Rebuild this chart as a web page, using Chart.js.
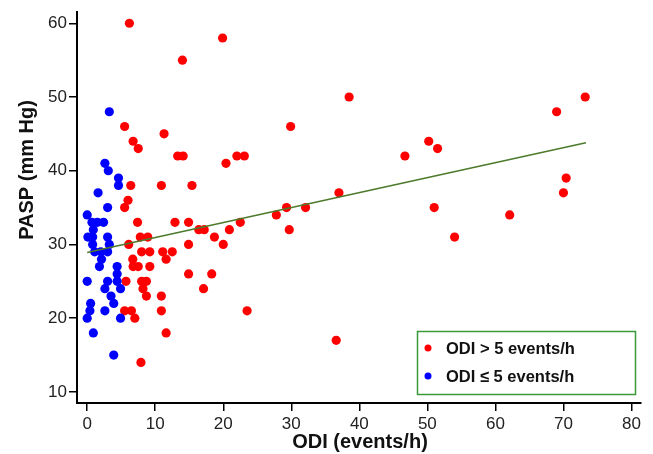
<!DOCTYPE html>
<html>
<head>
<meta charset="utf-8">
<script src="https://cdn.jsdelivr.net/npm/chart.js@4.4.1/dist/chart.umd.min.js"></script>
<style>
  html, body { margin: 0; padding: 0; background: #fff; }
  #wrap { width: 653px; height: 454px; }
</style>
</head>
<body>
<div id="wrap"><canvas id="c" width="653" height="454"></canvas></div>
<script>
// ---- data ----
const xTicks = [0, 10, 20, 30, 40, 50, 60, 70, 80];
const yTicks = [10, 20, 30, 40, 50, 60];

const seriesNames = ['ODI > 5 events/h', 'ODI \u2264 5 events/h'];

const redX = [6.2,19.9,14.0,38.5,73.2,69.0,5.5,29.9,11.3,6.75,50.2,7.5,51.5,13.3,14.1,22.0,23.1,46.7,20.4,70.4,
  6.4,10.9,15.4,37.0,70.0,6.0,5.5,29.3,32.1,51.0,27.8,62.1,7.4,12.9,14.9,22.5,16.4,17.2,20.9,29.7,
  54.0,7.8,8.9,18.7,6.1,14.9,20.0,8.0,9.2,11.1,12.5,6.7,11.6,6.75,7.5,9.2,14.9,18.3,5.7,8.0,
  8.7,8.2,17.1,8.7,10.9,5.5,6.5,10.9,23.5,7.0,11.6,36.6,7.9];
const redY = [60,58,55,50,50,48,46,46,45,44,44,43,43,42,42,42,42,42,41,39,
  38,38,38,37,37,36,35,35,35,35,34,34,33,33,33,33,32,32,32,32,
  31,31,31,31,30,30,30,29,29,29,29,28,28,27,27,27,26,26,25,25,
  25,24,24,23,23,21,21,21,21,20,18,17,14];

const blueX = [3.25,2.6,3.1,4.6,4.6,1.6,3.0,0.0,0.7,1.5,2.4,0.9,0.1,0.8,3.0,0.8,3.25,1.1,2.0,3.0,
  2.1,1.8,4.4,4.4,0.0,3.0,4.4,2.6,4.9,3.5,3.9,0.5,0.4,2.6,0.0,4.9,0.9,3.9];
const blueY = [48,41,40,39,38,37,35,34,33,33,33,32,31,31,31,30,30,29,29,29,
  28,27,27,26,25,25,25,24,24,23,22,22,21,21,20,20,18,15];

const trendX = [0, 73.3];
const trendY = [28.9, 43.8];

// ---- build ----
const pts = (xs, ys) => xs.map((x, i) => ({ x: x, y: ys[i] }));
const FONT = 'Arial, "Liberation Sans", Helvetica, sans-serif';

const overlay = {
  id: 'overlay',
  afterDraw(chart) {
    const ctx = chart.ctx;
    ctx.save();
    // axis titles
    ctx.fillStyle = '#111';
    ctx.font = 'bold 20px ' + FONT;
    ctx.textAlign = 'center';
    ctx.textBaseline = 'middle';
    ctx.fillText('ODI (events/h)', 360, 442);
    ctx.save();
    ctx.translate(27, 170);
    ctx.rotate(-Math.PI / 2);
    ctx.fillText('PASP (mm Hg)', 0, 0);
    ctx.restore();

    // legend box
    ctx.strokeStyle = '#3a9a3a';
    ctx.lineWidth = 1.5;
    ctx.strokeRect(417.5, 331.5, 218, 63);
    const rows = [[348, '#ff0000'], [376, '#0000ff']];
    ctx.font = 'bold 16.5px ' + FONT;
    ctx.textAlign = 'left';
    rows.forEach((r, i) => {
      ctx.fillStyle = r[1];
      ctx.beginPath();
      ctx.arc(428, r[0], 3.5, 0, Math.PI * 2);
      ctx.fill();
      ctx.fillStyle = '#111';
      ctx.fillText(seriesNames[i], 446, r[0] + 1);
    });
    ctx.restore();
  }
};

new Chart(document.getElementById('c'), {
  type: 'scatter',
  data: {
    datasets: [
      { label: 'trend', type: 'line', data: pts(trendX, trendY), borderColor: '#4e7a2c', borderWidth: 1.6,
        pointRadius: 0, fill: false, order: 0 },
      { label: seriesNames[1], data: pts(blueX, blueY), backgroundColor: '#0000ff', borderWidth: 0,
        pointRadius: 4.6, order: 1 },
      { label: seriesNames[0], data: pts(redX, redY), backgroundColor: '#ff0000', borderWidth: 0,
        pointRadius: 4.6, order: 2 }
    ]
  },
  options: {
    responsive: false,
    devicePixelRatio: 1,
    animation: false,
    layout: { padding: { top: 10, right: 12, left: 0, bottom: 0 } },
    plugins: { legend: { display: false }, tooltip: { enabled: false } },
    scales: {
      x: {
        type: 'linear', min: -1.5, max: 81.4,
        afterFit(s) { s.height = 51; },
        afterBuildTicks(s) { s.ticks = xTicks.map(v => ({ value: v })); },
        border: { color: '#000', width: 2 },
        grid: { drawOnChartArea: false, drawTicks: true, tickLength: 8, color: '#000', lineWidth: 1.5 },
        ticks: { color: '#222', font: { family: FONT, size: 17 }, padding: 3, maxRotation: 0 }
      },
      y: {
        type: 'linear', min: 8.5, max: 61.5,
        afterFit(s) { s.width = 77; },
        afterBuildTicks(s) { s.ticks = yTicks.map(v => ({ value: v })); },
        border: { color: '#000', width: 2 },
        grid: { drawOnChartArea: false, drawTicks: true, tickLength: 8, color: '#000', lineWidth: 1.5 },
        ticks: { color: '#222', font: { family: FONT, size: 17 }, padding: 2 }
      }
    }
  },
  plugins: [overlay]
});
</script>
</body>
</html>
